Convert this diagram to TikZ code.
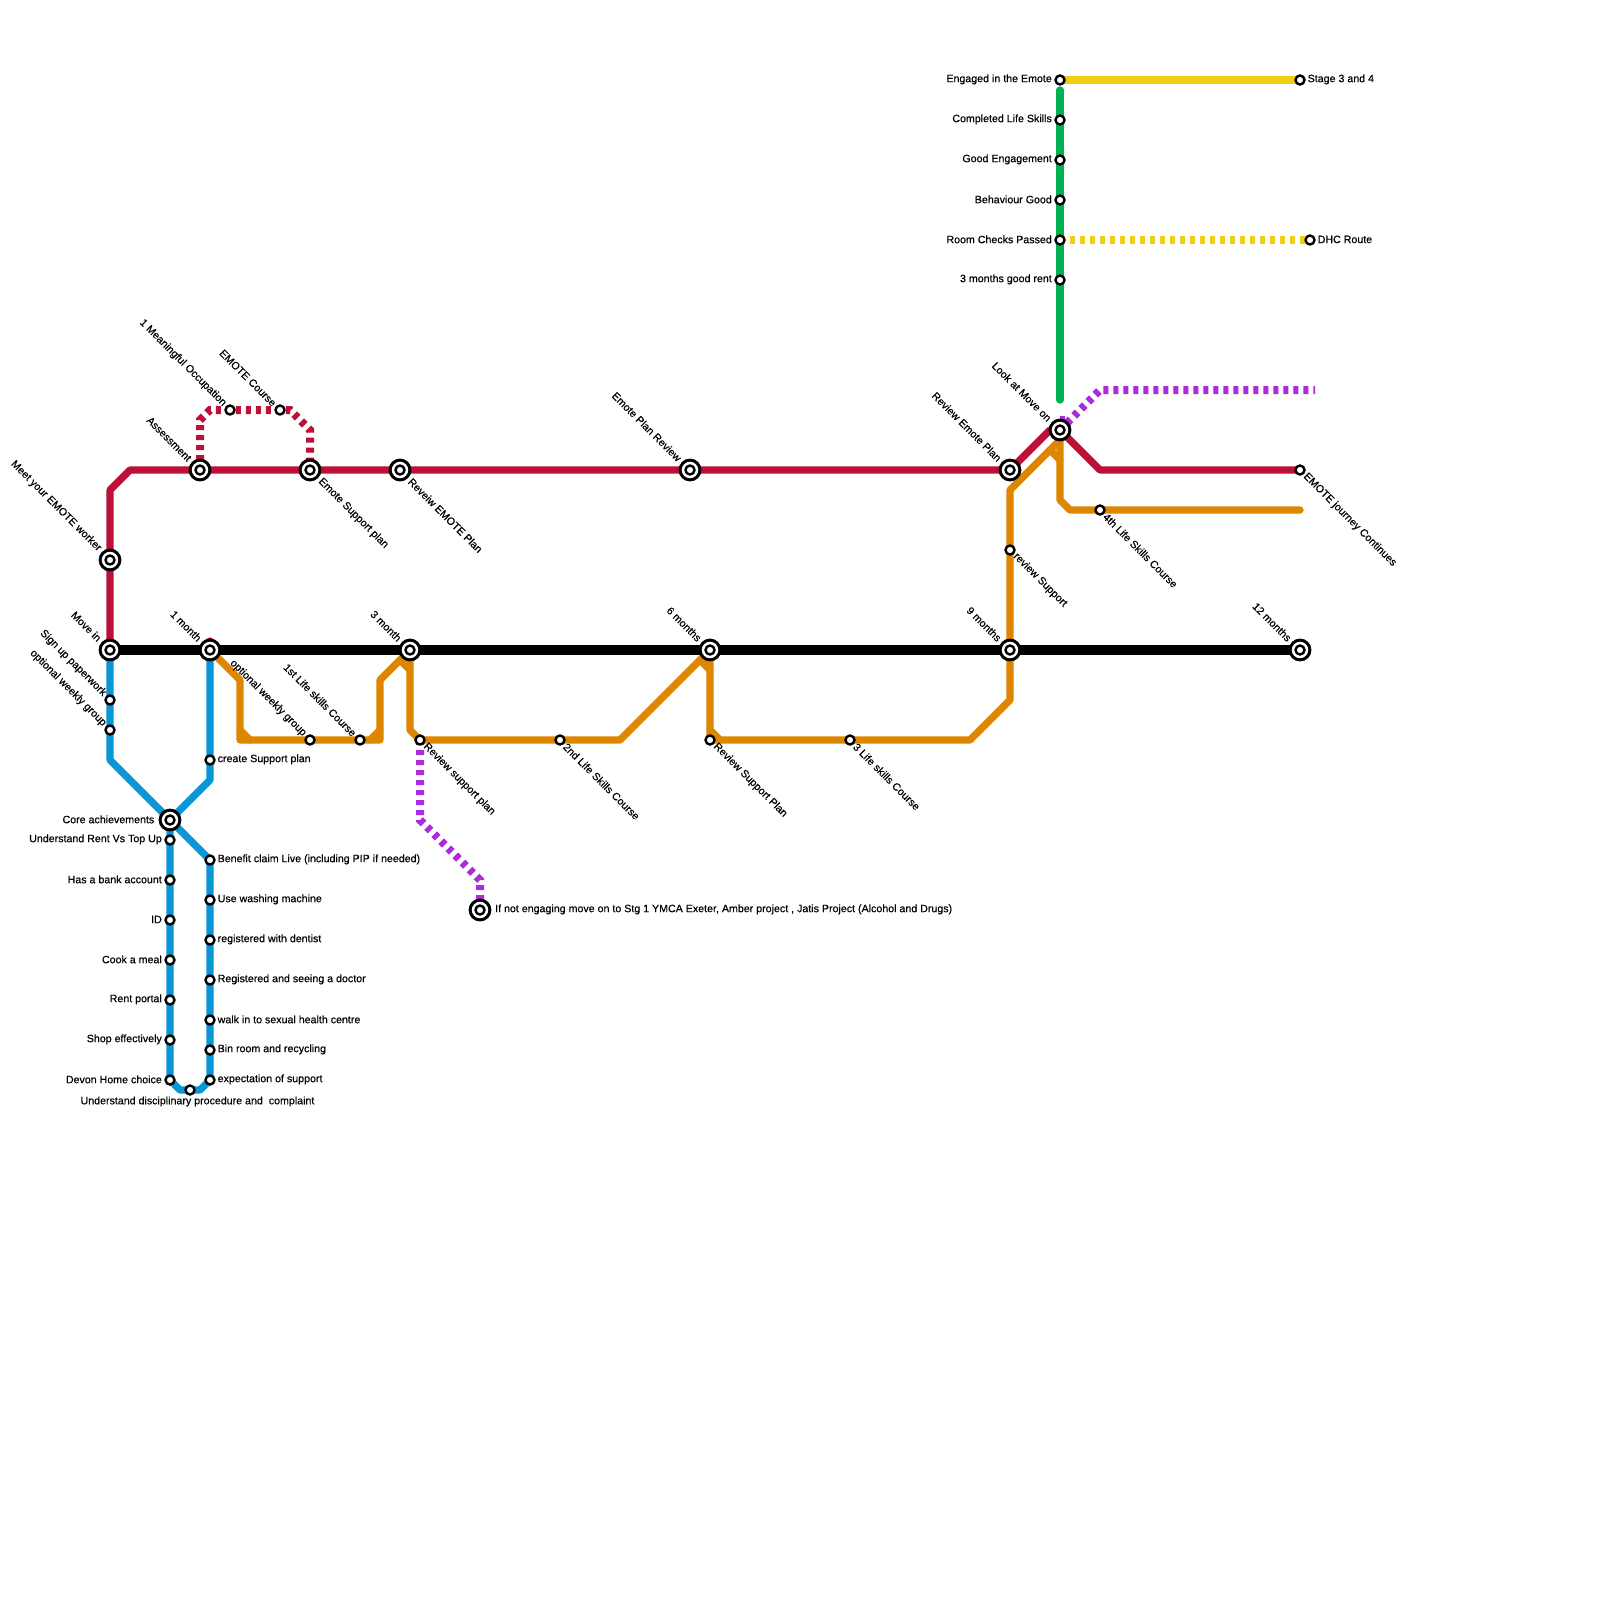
\documentclass[tikz,border=0pt]{standalone}
\usepackage{fontspec}
\setmainfont[FakeBold=0.4]{Liberation Sans}
\pgfdeclarelayer{lines}
\pgfsetlayers{lines,main}
\definecolor{cRed}{HTML}{BD1038}
\definecolor{cBlue}{HTML}{0896D7}
\definecolor{cOrange}{HTML}{DF8600}
\definecolor{cGreen}{HTML}{00B251}
\definecolor{cYellow}{HTML}{F0CE15}
\definecolor{cPurple}{HTML}{AC2BDD}
\newcommand{\stnS}[4]{\node[smallst] (#1) at (#2) {}; \node[#3] (#1-l) at (#1.center) {#4};}
\newcommand{\stnB}[4]{\node[bigst] (#1) at (#2) {}; \node[smallst] (#1-i) at (#2) {}; \node[#3] (#1-l) at (#1.center) {#4};}
\tikzset{
  x=1pt,y=-1pt,
  smallst/.style={circle,draw=black,fill=white,line width=2.4pt,inner sep=0pt,outer sep=0pt,minimum size=9pt},
  bigst/.style={circle,draw=black,fill=white,line width=3pt,inner sep=0pt,outer sep=0pt,minimum size=19.8pt},
  lbl/.style={inner sep=0pt,font=\fontsize{10.65pt}{12pt}\selectfont,text=black},
  lblR/.style={lbl,anchor=west,xshift=7.5pt,yshift=0.6pt},
  lblL/.style={lbl,anchor=east,xshift=-8pt,yshift=0.6pt},
  lblRB/.style={lbl,anchor=west,xshift=15pt,yshift=0.6pt},
  lblLB/.style={lbl,anchor=east,xshift=-15.5pt,yshift=0.6pt},
  lblSE/.style={lbl,anchor=west,rotate=-45,xshift=7pt},
  lblNW/.style={lbl,anchor=east,rotate=-45,xshift=-7.5pt},
  lblSEB/.style={lbl,anchor=west,rotate=-45,xshift=14pt},
  lblNWB/.style={lbl,anchor=east,rotate=-45,xshift=-14.5pt},
  rail/.style={line width=7.2pt,line cap=round,line join=round},
  dashrail/.style={line width=8pt,line cap=butt,line join=miter,dash pattern=on 5pt off 5pt},
}
\begin{document}
\begin{tikzpicture}
\useasboundingbox (0,0) rectangle (1600,1600);
% timeline stations
\stnB{movein}{110,650}{lblNWB}{Move in}
\stnB{month1}{210,650}{lblNWB}{1 month}
\stnB{month3}{410,650}{lblNWB}{3 month}
\stnB{month6}{710,650}{lblNWB}{6 months}
\stnB{month9}{1010,650}{lblNWB}{9 months}
\stnB{month12}{1300,650}{lblNWB}{12 months}
% emote line
\stnB{meet}{110,560}{lblNWB}{Meet your EMOTE worker}
\stnB{assess}{200,470}{lblNWB}{Assessment}
\stnB{esp}{310,470}{lblSEB}{Emote Support plan}
\stnB{rep}{400,470}{lblSEB}{Reveiw EMOTE Plan}
\stnB{epr}{690,470}{lblNWB}{Emote Plan Review}
\stnB{repl}{1010,470}{lblNWB}{Review Emote Plan}
\stnB{moveon}{1060,430}{lblNWB}{Look at Move on}
\stnS{ejc}{1300,470}{lblSE}{EMOTE journey Continues}
\stnS{occ}{230,410}{lblNW}{1 Meaningful Occupation}
\stnS{ecourse}{280,410}{lblNW}{EMOTE Course}
% left blue branch
\stnS{signup}{110,700}{lblNW}{Sign up paperwork}
\stnS{optl}{110,730}{lblNW}{optional weekly group}
\stnB{core}{170,820}{lblLB}{Core achievements}
\stnS{rent}{170,840}{lblL}{Understand Rent Vs Top Up}
\stnS{bank}{170,880}{lblL}{Has a bank account}
\stnS{id}{170,920}{lblL}{ID}
\stnS{cook}{170,960}{lblL}{Cook a meal}
\stnS{portal}{170,1000}{lblL}{Rent portal}
\stnS{shop}{170,1040}{lblL}{Shop effectively}
\stnS{devon}{170,1080}{lblL}{Devon Home choice}
\node[smallst] (disc) at (190,1090) {};
\node[lbl,anchor=center] (disc-l) at (197.5,1101.5) {Understand disciplinary procedure and\ \ complaint};
% right blue branch
\stnS{csp}{210,760}{lblR}{create Support plan}
\stnS{benefit}{210,860}{lblR}{Benefit claim Live (including PIP if needed)}
\stnS{wash}{210,900}{lblR}{Use washing machine}
\stnS{dent}{210,940}{lblR}{registered with dentist}
\stnS{doc}{210,980}{lblR}{Registered and seeing a doctor}
\stnS{sex}{210,1020}{lblR}{walk in to sexual health centre}
\stnS{bin}{210,1050}{lblR}{Bin room and recycling}
\stnS{expect}{210,1080}{lblR}{expectation of support}
% orange line
\stnS{optw}{310,740}{lblNW}{optional weekly group}
\stnS{life1}{360,740}{lblNW}{1st Life skills Course}
\stnS{rsp}{420,740}{lblSE}{Review support plan}
\stnS{life2}{560,740}{lblSE}{2nd Life Skills Course}
\stnS{rsp2}{710,740}{lblSE}{Review Support Plan}
\stnS{life3}{850,740}{lblSE}{3 Life skills Course}
\stnS{revs}{1010,550}{lblSE}{review Support}
\stnS{life4}{1100,510}{lblSE}{4th Life Skills Course}
% exit
\stnB{exit}{480,910}{lblRB}{If not engaging move on to Stg 1 YMCA Exeter, Amber project , Jatis Project (Alcohol and Drugs)}
% top green line
\stnS{engaged}{1060,80}{lblL}{Engaged in the Emote}
\stnS{skills}{1060,120}{lblL}{Completed Life Skills}
\stnS{goodeng}{1060,160}{lblL}{Good Engagement}
\stnS{behav}{1060,200}{lblL}{Behaviour Good}
\stnS{room}{1060,240}{lblL}{Room Checks Passed}
\stnS{rentgood}{1060,280}{lblL}{3 months good rent}
\stnS{stage}{1300,80}{lblR}{Stage 3 and 4}
\stnS{dhc}{1310,240}{lblR}{DHC Route}
% way points
\coordinate (greentop) at (1060,90);
\coordinate (greenend) at (1060,400);
\coordinate (orangeend) at (1300,510);
\coordinate (purpleend) at (1315,390);
\begin{pgfonlayer}{lines}
\fill[white] (0,0) rectangle (1600,1600);
% red
\draw[rail,cRed] (movein.center) -- (110,490) -- (130,470) -- (assess.center) -- (esp.center) -- (rep.center) -- (epr.center) -- (repl.center) -- (1050,430) -- (moveon.center) -- (1100,470) -- (ejc.center);
\draw[rail,cRed] (210,641) -- (month1.center);
\draw[dashrail,cRed] (assess.center) -- (200,420) -- (210,410) -- (occ.center) -- (ecourse.center) -- (290,410) -- (310,430) -- (esp.center);
% blue
\draw[rail,cBlue] (movein.center) -- (signup.center) -- (optl.center) -- (110,760) -- (core.center) -- (benefit.center) -- (expect.center) -- (200,1090) -- (disc.center) -- (180,1090) -- (devon.center) -- (rent.center) -- (core.center) -- (210,780) -- (csp.center) -- (month1.center);
% orange
\draw[rail,cOrange] (month1.center) -- (240,680) -- (240,740) -- (380,740) -- (380,680) -- (month3.center) -- (410,730) -- (rsp.center) -- (life2.center) -- (620,740) -- (month6.center) -- (rsp2.center) -- (life3.center) -- (970,740) -- (1010,700) -- (month9.center) -- (revs.center) -- (1010,490) -- (1060,440) -- (1060,500) -- (1070,510) -- (orangeend);
\draw[rail,cOrange] (240,730) -- (250,740);
\draw[rail,cOrange] (370,740) -- (380,730);
\draw[rail,cOrange] (400,660) -- (410,670);
\draw[rail,cOrange] (700,660) -- (710,670);
\draw[rail,cOrange] (710,730) -- (720,740);
\draw[rail,cOrange] (1050,450) -- (1060,460);
% black
\draw[line width=10pt,black] (movein.center) -- (month12.center);
% purple
\draw[dashrail,cPurple] (rsp.center) -- (420,820) -- (480,880) -- (exit.center);
\draw[dashrail,cPurple] (moveon.center) -- (1100,390) -- (purpleend);
\draw[dashrail,cPurple] (1060,420) -- (1070,420);
% green and yellow
\draw[rail,cGreen] (greentop) -- (greenend);
\draw[rail,cYellow,line cap=butt] (engaged.center) -- (stage.center);
\draw[dashrail,cYellow] (room.center) -- (dhc.center);
\end{pgfonlayer}
\end{tikzpicture}
\end{document}
